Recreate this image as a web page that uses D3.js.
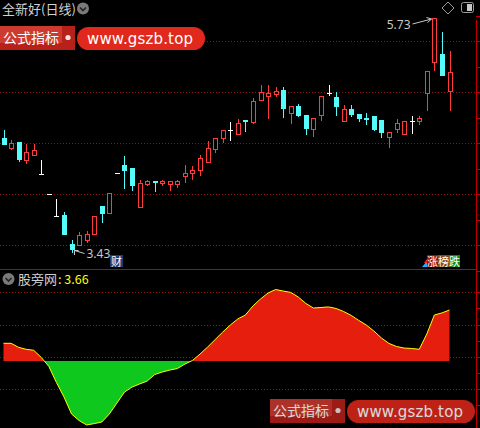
<!DOCTYPE html>
<html>
<head>
<meta charset="utf-8">
<script src="https://cdn.jsdelivr.net/npm/d3@7/dist/d3.min.js"></script>
<style>
html, body { margin: 0; padding: 0; background: #000; }
svg { display: block; }
</style>
</head>
<body>
<div id="chart"></div>
<script>
// daily candles
var openP  = [4.55,4.45,4.51,4.34,4.39,4.20,4.00,3.79,3.80,3.51, 3.50,3.55,3.61,3.89,3.82,4.21,4.29,4.26,3.88,4.10,
              4.13,4.11,4.10,4.10,4.18,4.21,4.24,4.32,4.44,4.55, 4.63,4.59,4.73,4.71,4.92,4.96,4.98,5.02,4.80,4.87,
              4.78,4.64,4.78,4.99,4.95,4.72,4.84,4.79,4.75,4.77, 4.73,4.56,4.64,4.59,4.72,4.72,4.99,5.30,5.38,5.01];
var highP  = [4.63,4.53,4.51,4.49,4.49,4.34,4.00,3.95,3.83,3.55, 3.63,3.64,3.79,3.89,4.01,4.21,4.38,4.26,4.14,4.14,
              4.13,4.14,4.13,4.14,4.29,4.28,4.39,4.52,4.55,4.63, 4.71,4.74,4.73,4.94,5.07,5.07,5.05,5.05,4.87,4.89,
              4.78,4.75,4.96,5.07,5.00,4.88,4.88,4.79,4.80,4.77, 4.73,4.61,4.74,4.72,4.77,4.77,5.21,5.73,5.59,5.40];
var lowP   = [4.49,4.44,4.33,4.31,4.39,4.20,4.00,3.79,3.61,3.43, 3.50,3.53,3.61,3.73,3.82,4.21,4.06,4.04,3.88,4.09,
              4.03,4.09,4.04,4.07,4.12,4.15,4.19,4.32,4.41,4.51, 4.53,4.59,4.62,4.70,4.92,4.75,4.96,4.76,4.70,4.77,
              4.59,4.57,4.73,4.97,4.78,4.72,4.77,4.72,4.69,4.63, 4.56,4.46,4.61,4.59,4.60,4.69,4.83,5.22,5.17,4.83];
var closeP = [4.49,4.50,4.35,4.41,4.43,4.20,4.00,3.79,3.61,3.46, 3.60,3.61,3.79,3.82,4.01,4.21,4.24,4.09,4.11,4.13,
              4.12,4.13,4.13,4.13,4.21,4.24,4.36,4.45,4.55,4.63, 4.63,4.70,4.72,4.91,5.00,4.99,5.01,4.85,4.87,4.78,
              4.65,4.75,4.96,4.99,4.87,4.84,4.79,4.75,4.74,4.64, 4.61,4.61,4.70,4.72,4.72,4.75,5.21,5.73,5.17,5.20];

// indicator 股旁网
var indVals = [1.27,1.27,0.98,0.84,0.77,0.25,-0.39,-1.54,-2.58,-3.80, -4.27,-4.59,-4.49,-4.38,-3.80,-3.02,-2.23,-1.87,-1.65,-1.44,
               -0.97,-0.79,-0.65,-0.54,-0.22,0.04,0.50,1.00,1.54,2.08, 2.58,3.02,3.30,3.95,4.45,4.88,5.13,5.02,4.92,4.59,
               4.13,3.80,3.84,3.88,3.77,3.55,3.27,2.91,2.58,2.15, 1.65,1.26,1.04,0.93,0.90,0.84,1.94,3.30,3.45,3.66];

var priceGrid  = [3.5, 4.0, 4.5, 5.0, 5.5];
var priceTicks = [3.25, 3.5, 3.75, 4.0, 4.25, 4.5, 4.75, 5.0, 5.25, 5.5, 5.75];

var stockTitle = "全新好(日线)";
var indName = "股旁网";

var W = 480, H = 428;
var RED = "#ff3c3c", CYAN = "#54fcfc", GRID = "#8c1414", AXIS = "#c00000";

var svg = d3.select("#chart").append("svg")
    .attr("width", W).attr("height", H)
    .style("background", "#000");

var x  = d3.scaleLinear().domain([0, openP.length - 1]).range([3.5, 449.5]);
var py = d3.scaleLinear().domain([3.5, 5.5]).range([245.3, 41.3]);
var iy = d3.scaleLinear().domain(d3.extent(indVals)).range([425, 289.5]);

function cx(i) { return Math.round(x(i)) + 0.5; }
function ry(v) { return Math.round(py(v)); }

// ---- grids
var grid = svg.append("g");
grid.selectAll("line.pg").data(priceGrid).enter().append("line")
    .attr("x1", 0).attr("x2", 476)
    .attr("y1", function (d) { return ry(d) + 0.5; })
    .attr("y2", function (d) { return ry(d) + 0.5; })
    .attr("stroke", GRID).attr("stroke-dasharray", "1,2");

// lower panel grid rows are evenly spaced
var lowRows = d3.range(4).map(function (k) { return Math.round(292.3 + k * 32.3); });
grid.selectAll("line.ig").data(lowRows).enter().append("line")
    .attr("x1", 0).attr("x2", 476)
    .attr("y1", function (d) { return d + 0.5; })
    .attr("y2", function (d) { return d + 0.5; })
    .attr("stroke", GRID).attr("stroke-dasharray", "1,2");

// right axis
svg.append("line").attr("x1", 476.5).attr("x2", 476.5).attr("y1", 20).attr("y2", H)
    .attr("stroke", AXIS);
svg.selectAll("line.pt").data(priceTicks).enter().append("line")
    .attr("x1", 476).attr("x2", 480)
    .attr("y1", function (d) { return ry(d) + 0.5; })
    .attr("y2", function (d) { return ry(d) + 0.5; })
    .attr("stroke", AXIS);
var lowTicks = d3.range(8).map(function (k) { return Math.round(292.3 + k * 16.15); });
svg.selectAll("line.it").data(lowTicks).enter().append("line")
    .attr("x1", 476).attr("x2", 480)
    .attr("y1", function (d) { return d + 0.5; })
    .attr("y2", function (d) { return d + 0.5; })
    .attr("stroke", AXIS);
// panel separator
svg.append("line").attr("x1", 0).attr("x2", 477).attr("y1", 269.5).attr("y2", 269.5)
    .attr("stroke", AXIS);

// ---- candles
var candles = svg.append("g");
openP.forEach(function (o, i) {
    var c = closeP[i], h = highP[i], l = lowP[i];
    var xc = cx(i);
    var top = ry(Math.max(o, c)), bot = ry(Math.min(o, c));
    if (o === c) {
        // flat candle: white cross
        candles.append("line").attr("x1", xc).attr("x2", xc)
            .attr("y1", ry(h)).attr("y2", ry(l) + 1).attr("stroke", "#fff");
        candles.append("line").attr("x1", xc - 2.5).attr("x2", xc + 2.5)
            .attr("y1", top + 0.5).attr("y2", top + 0.5).attr("stroke", "#fff");
    } else if (c > o) {
        // up: hollow red
        if (ry(h) < top)
            candles.append("line").attr("x1", xc).attr("x2", xc)
                .attr("y1", ry(h)).attr("y2", top).attr("stroke", RED);
        if (ry(l) > bot)
            candles.append("line").attr("x1", xc).attr("x2", xc)
                .attr("y1", bot + 1).attr("y2", ry(l) + 1).attr("stroke", RED);
        candles.append("rect").attr("x", xc - 2).attr("y", top + 0.5)
            .attr("width", 4).attr("height", Math.max(1, bot - top))
            .attr("fill", "#000").attr("stroke", RED);
    } else {
        // down: filled cyan
        candles.append("line").attr("x1", xc).attr("x2", xc)
            .attr("y1", ry(h)).attr("y2", ry(l) + 1).attr("stroke", CYAN);
        candles.append("rect").attr("x", xc - 2.5).attr("y", top)
            .attr("width", 5).attr("height", Math.max(1, bot - top + 1))
            .attr("fill", CYAN);
    }
});

// high / low marks
var iMax = d3.maxIndex(highP), iMin = d3.minIndex(lowP);
var mk = svg.append("g").attr("fill", "none").attr("stroke", "#c8c8c8");
var hx = cx(iMax) - 3, hy = ry(highP[iMax]) + 1;
mk.append("path").attr("d", "M" + (hx - 19) + "," + (hy + 5) + "L" + hx + "," + hy +
    "M" + (hx - 5) + "," + (hy - 1.5) + "L" + hx + "," + hy + "L" + (hx - 4) + "," + (hy + 3.5));
svg.append("text").attr("x", hx - 21).attr("y", hy + 10).attr("text-anchor", "end")
    .attr("font-family", "Noto Sans, sans-serif").attr("font-size", 12).attr("fill", "#c8c8c8")
    .text(highP[iMax].toFixed(2));
var lx = cx(iMin) + 1, ly = ry(lowP[iMin]) - 2;
mk.append("path").attr("d", "M" + (lx + 1) + "," + (ly + 0.5) + "L" + (lx + 11) + "," + (ly + 3.5) +
    "M" + (lx + 1) + "," + (ly + 5) + "L" + (lx + 1) + "," + (ly + 0.5) + "L" + (lx + 5) + "," + (ly + 0.5));
svg.append("text").attr("x", lx + 13).attr("y", ly + 8)
    .attr("font-family", "Noto Sans, sans-serif").attr("font-size", 12).attr("fill", "#c8c8c8")
    .text(lowP[iMin].toFixed(2));

// ---- indicator area
var zeroY = iy(0);
var defs = svg.append("defs");
defs.append("clipPath").attr("id", "posClip").append("rect")
    .attr("x", 0).attr("y", 270).attr("width", W).attr("height", zeroY - 270);
defs.append("clipPath").attr("id", "negClip").append("rect")
    .attr("x", 0).attr("y", zeroY).attr("width", W).attr("height", H - zeroY);

var area = d3.area()
    .x(function (d, i) { return x(i); })
    .y0(zeroY)
    .y1(function (d) { return iy(d); });
var line = d3.line()
    .x(function (d, i) { return x(i); })
    .y(function (d) { return iy(d); });

svg.append("path").datum(indVals).attr("d", area)
    .attr("fill", "#e61e0e").attr("clip-path", "url(#posClip)");
svg.append("path").datum(indVals).attr("d", area)
    .attr("fill", "#0fc81e").attr("clip-path", "url(#negClip)");
svg.append("path").datum(indVals).attr("d", line)
    .attr("fill", "none").attr("stroke", "#ffff00").attr("stroke-width", 1);

// ---- headers
var CJK = "Noto Sans CJK SC, sans-serif";
function dropdown_icon(cxp, cyp) {
    svg.append("circle").attr("cx", cxp).attr("cy", cyp).attr("r", 6).attr("fill", "#7a7a7a");
    svg.append("path").attr("d", "M" + (cxp - 3) + "," + (cyp - 1) + "L" + cxp + "," + (cyp + 2) + "L" + (cxp + 3) + "," + (cyp - 1))
        .attr("fill", "none").attr("stroke", "#222").attr("stroke-width", 1.6);
}
svg.append("text").attr("x", 2).attr("y", 14)
    .attr("font-family", CJK).attr("font-size", 13).attr("fill", "#d0d0d0").text(stockTitle);
dropdown_icon(83, 8.5);

dropdown_icon(8.5, 279);
svg.append("text").attr("x", 18).attr("y", 284)
    .attr("font-family", CJK).attr("font-size", 13).attr("fill", "#d0d0d0").text(indName);
svg.append("text").attr("x", 58).attr("y", 284)
    .attr("font-family", CJK).attr("font-size", 12.5).attr("fill", "#ffff00")
    .text(": " + indVals[indVals.length - 1].toFixed(2));

// top-right icons
svg.append("path").attr("d", "M448,2L454,8L448,14L442,8Z")
    .attr("fill", "none").attr("stroke", "#9a9a9a");
svg.append("rect").attr("x", 461.5).attr("y", 2.5).attr("width", 12).attr("height", 10).attr("rx", 2)
    .attr("fill", "none").attr("stroke", "#9a9a9a");
svg.append("rect").attr("x", 467).attr("y", 4).attr("width", 5).attr("height", 7).attr("fill", "#c8c8c8");

// small badges on the separator
var cai = svg.append("g").attr("transform", "translate(110,255)");
cai.append("rect").attr("width", 13).attr("height", 12).attr("fill", "#1b3c78");
cai.append("text").attr("x", 6.5).attr("y", 10.5).attr("text-anchor", "middle")
    .attr("font-family", CJK).attr("font-size", 11).attr("fill", "#fff").text("财");

var bang = svg.append("g").attr("transform", "translate(422,255)");
bang.append("path").attr("d", "M0,12L5,6L5,12Z").attr("fill", "#2aa8ff");
bang.append("path").attr("d", "M2,8L5,4L5,8Z").attr("fill", "#ff2020");
var bangCols = ["#901414", "#8a4a14", "#0e8a14"];
["涨", "榜", "跌"].forEach(function (ch, k) {
    bang.append("rect").attr("x", 5 + k * 11).attr("y", 0).attr("width", 11).attr("height", 12)
        .attr("fill", bangCols[k]);
    bang.append("text").attr("x", 10.5 + k * 11).attr("y", 10.5).attr("text-anchor", "middle")
        .attr("font-family", CJK).attr("font-size", 11).attr("fill", "#fff").text(ch);
});

// ---- watermark banners
function draw_banner(bx, by, op) {
    var g = svg.append("g").attr("transform", "translate(" + bx + "," + by + ")").attr("opacity", op);
    g.append("rect").attr("x", 0).attr("y", 0).attr("width", 75).attr("height", 24).attr("fill", "#b8201a");
    g.append("rect").attr("x", 0).attr("y", 0).attr("width", 62).attr("height", 17).attr("fill", "#cc3a30");
    g.append("text").attr("x", 3).attr("y", 17)
        .attr("font-family", CJK).attr("font-size", 14).attr("fill", "#fff").text("公式指标");
    g.append("circle").attr("cx", 68).attr("cy", 11.5).attr("r", 2.6).attr("fill", "#f4e0e0");
    g.append("rect").attr("x", 77).attr("y", 1).attr("width", 128).attr("height", 23).attr("rx", 11.5)
        .attr("fill", "#e0281c");
    g.append("text").attr("x", 87).attr("y", 18)
        .attr("font-family", "DejaVu Sans, sans-serif").attr("font-size", 15).attr("fill", "#fff")
        .attr("textLength", 106).attr("lengthAdjust", "spacing").text("www.gszb.top");
}
draw_banner(0, 26, 1);
draw_banner(270, 399, 0.85);
</script>
</body>
</html>
